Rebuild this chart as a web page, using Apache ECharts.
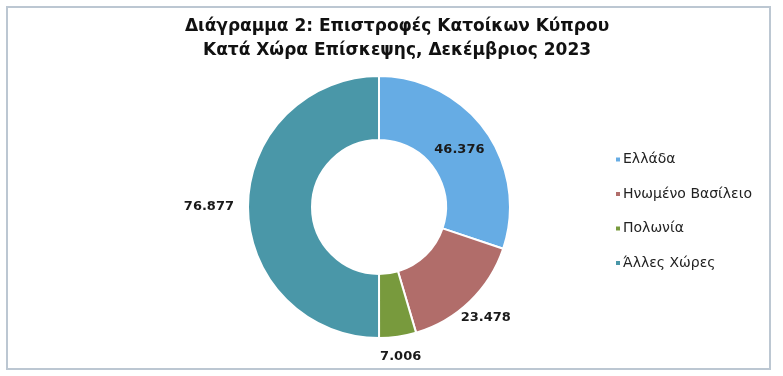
<!DOCTYPE html>
<html>
<head>
<meta charset="utf-8">
<script src="https://cdn.jsdelivr.net/npm/echarts@6/dist/echarts.min.js"></script>
<style>
	html, body { margin: 0; padding: 0; background: #fff; }
	#main { width: 783px; height: 376px; }
</style>
</head>
<body>
<div id="main"></div>
<script>
	var titleLines = ['Διάγραμμα 2: Επιστροφές Κατοίκων Κύπρου', 'Κατά Χώρα Επίσκεψης, Δεκέμβριος 2023'];
	var countries = ['Ελλάδα', 'Ηνωμένο Βασίλειο', 'Πολωνία', 'Άλλες Χώρες'];
	var returns = [46376, 23478, 7006, 76877];
	var colors = ['#66ace4', '#b16d6a', '#789a3d', '#4a97a8'];

	var cx = 379, cy = 207, r0 = 67, r1 = 131;

	// 46376 -> 46.376
	function fmt(v) {
		return String(v).replace(/\B(?=(\d{3})+(?!\d))/g, '.');
	}

	var total = 0;
	for (var i = 0; i < returns.length; i++) total += returns[i];

	function midAngle(idx) {
		var acc = 0;
		for (var i = 0; i < idx; i++) acc += returns[i];
		acc += returns[idx] / 2;
		// clockwise from 12 o'clock
		return acc / total * Math.PI * 2;
	}

	var data = [];
	for (var i = 0; i < countries.length; i++) {
		data.push({
			name: countries[i],
			value: returns[i],
			itemStyle: { color: colors[i] }
		});
	}

	var myChart = echarts.init(document.getElementById('main'));
	myChart.setOption({
		backgroundColor: '#fff',
		animation: false,
		title: {
			text: titleLines.join('\n'),
			left: 392,
			top: 10,
			textAlign: 'center',
			textStyle: {
				fontFamily: 'DejaVu Sans',
				fontWeight: 'bold',
				fontSize: 17,
				lineHeight: 24,
				color: '#111'
			}
		},
		legend: {
			orient: 'vertical',
			left: 609,
			top: 146,
			icon: 'rect',
			itemWidth: 6,
			itemHeight: 6,
			itemGap: 17.5,
			data: countries,
			textStyle: {
				fontFamily: 'DejaVu Sans',
				fontSize: 14,
				lineHeight: 17,
				color: '#222',
				padding: [0, 0, 0, -3]
			}
		},
		graphic: [{
			type: 'rect',
			shape: { x: 7, y: 7, width: 763, height: 362 },
			style: { fill: null, stroke: '#bcc7d2', lineWidth: 2 },
			silent: true
		}],
		series: [{
			type: 'pie',
			center: [cx, cy],
			radius: [r0, r1],
			startAngle: 90,
			avoidLabelOverlap: false,
			data: data,
			itemStyle: { borderColor: '#fff', borderWidth: 2 },
			labelLine: { show: false },
			label: {
				show: true,
				position: 'outside',
				formatter: function (p) { return fmt(p.value); },
				fontFamily: 'DejaVu Sans',
				fontWeight: 'bold',
				fontSize: 13,
				color: '#1a1a1a'
			},
			labelLayout: function (p) {
				var a = midAngle(p.dataIndex);
				var dx = Math.sin(a), dy = -Math.cos(a);
				var d;
				if (p.dataIndex === 0) {
					// first value sits inside the ring
					d = (r0 + r1) / 2;
				} else {
					var w = p.labelRect.width / 2, h = p.labelRect.height / 2;
					var ext = Math.min(Math.abs(dx) > 1e-6 ? w / Math.abs(dx) : 1e9, Math.abs(dy) > 1e-6 ? h / Math.abs(dy) : 1e9);
					d = r1 + 14 + ext;
				}
				return {
					x: cx + dx * d,
					y: cy + dy * d,
					align: 'center',
					verticalAlign: 'middle'
				};
			},
			emphasis: { disabled: true }
		}]
	});
</script>
</body>
</html>
